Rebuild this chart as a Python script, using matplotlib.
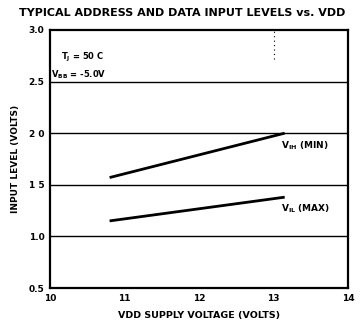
import matplotlib
matplotlib.use('Agg')
import matplotlib.pyplot as plt

# Data
vdd = [10.8, 13.15]
vih_min = [1.57, 2.00]
vil_max = [1.15, 1.38]

x_ticks = [10, 11, 12, 13, 14]
y_ticks = [0.5, 1.0, 1.5, 2.0, 2.5, 3.0]
y_ticklabels = ['0.5', '1.0', '1 5', '2 0', '2.5', '3.0']

fig = plt.figure(figsize=(3.61, 3.29), dpi=100)
ax = fig.add_axes([0.1385, 0.1246, 0.8255, 0.7844])

# horizontal grid lines
for y in [1.0, 1.5, 2.0, 2.5]:
    ax.axhline(y, color='black', linewidth=1.0)

# faint dotted mark near the top
ax.plot([13.0, 13.0], [2.72, 3.0], color='black', linewidth=0.8, linestyle=(0, (1, 3)))

ax.plot(vdd, vih_min, color='black', linewidth=2.0, solid_capstyle='butt')
ax.plot(vdd, vil_max, color='black', linewidth=2.0, solid_capstyle='butt')

ax.set_xlim(10, 14)
ax.set_ylim(0.5, 3.0)
ax.set_xticks(x_ticks)
ax.set_yticks(y_ticks)
ax.set_yticklabels(y_ticklabels)
ax.tick_params(length=0, labelsize=6.5, pad=4)
for lbl in ax.get_xticklabels() + ax.get_yticklabels():
    lbl.set_fontweight('bold')
for s in ax.spines.values():
    s.set_linewidth(1.6)

ax.text(10.15, 2.73, r'T$_\mathregular{J}$ = 50 C', fontsize=6, fontweight='bold', va='center')
ax.text(10.02, 2.51, r'V$_\mathregular{BB}$ = -5.0V', fontsize=6, fontweight='bold', va='bottom')
ax.text(13.1, 1.88, r'V$_\mathregular{IH}$ (MIN)', fontsize=6.5, fontweight='bold', va='center')
ax.text(13.1, 1.27, r'V$_\mathregular{IL}$ (MAX)', fontsize=6.5, fontweight='bold', va='center')

fig.text(0.505, 0.96, 'TYPICAL ADDRESS AND DATA INPUT LEVELS vs. VDD',
         ha='center', va='center', fontsize=8.0, fontweight='bold')
ax.set_xlabel('VDD SUPPLY VOLTAGE (VOLTS)', fontsize=6.8, fontweight='bold', labelpad=6)
ax.set_ylabel('INPUT LEVEL (VOLTS)', fontsize=6.5, fontweight='bold', labelpad=6)

fig.savefig('out.png', dpi=100)
